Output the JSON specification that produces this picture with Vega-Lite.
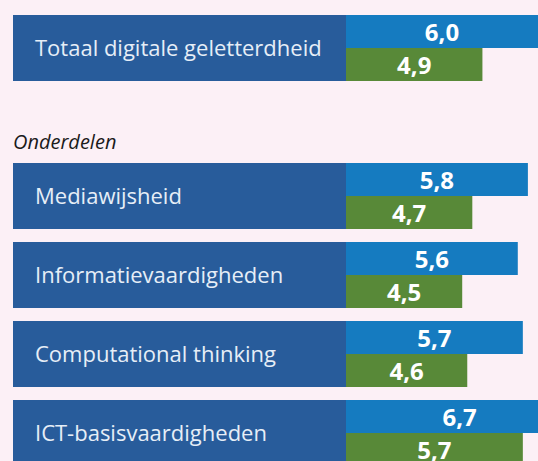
{
  "$schema": "https://vega.github.io/schema/vega-lite/v6.json",
  "background": "#FCF0F6",
  "padding": {"left": 13, "top": 15, "right": 0, "bottom": 0},
  "config": {
    "view": {"stroke": null},
    "locale": {"number": {"decimal": ",", "thousands": ".", "grouping": [3], "currency": ["€", ""]}},
    "font": "Open Sans"
  },
  "data": {
    "values": [
      {"groep": "Totaal", "onderdeel": "Totaal digitale geletterdheid", "serie": "A", "score": 6.0},
      {"groep": "Totaal", "onderdeel": "Totaal digitale geletterdheid", "serie": "B", "score": 4.9},
      {"groep": "Onderdelen", "onderdeel": "Mediawijsheid", "serie": "A", "score": 5.8},
      {"groep": "Onderdelen", "onderdeel": "Mediawijsheid", "serie": "B", "score": 4.7},
      {"groep": "Onderdelen", "onderdeel": "Informatievaardigheden", "serie": "A", "score": 5.6},
      {"groep": "Onderdelen", "onderdeel": "Informatievaardigheden", "serie": "B", "score": 4.5},
      {"groep": "Onderdelen", "onderdeel": "Computational thinking", "serie": "A", "score": 5.7},
      {"groep": "Onderdelen", "onderdeel": "Computational thinking", "serie": "B", "score": 4.6},
      {"groep": "Onderdelen", "onderdeel": "ICT-basisvaardigheden", "serie": "A", "score": 6.7},
      {"groep": "Onderdelen", "onderdeel": "ICT-basisvaardigheden", "serie": "B", "score": 5.7}
    ]
  },
  "vconcat": [
    {
      "spacing": 0,
      "transform": [{"filter": "datum.groep === 'Totaal'"}],
      "hconcat": [
        {
          "width": 333,
          "height": 66,
          "transform": [{"filter": "datum.serie === 'A'"}],
          "encoding": {
            "y": {"field": "onderdeel", "type": "nominal", "sort": null, "axis": null, "scale": {"paddingInner": 0, "paddingOuter": 0}}
          },
          "layer": [
            {
              "mark": {"type": "bar", "color": "#285C9B"},
              "encoding": {
                "x": {"datum": 0, "type": "quantitative", "scale": {"domain": [0, 1], "nice": false, "zero": false}, "axis": null},
                "x2": {"datum": 1}
              }
            },
            {
              "mark": {"type": "text", "align": "left", "baseline": "middle", "dx": 22, "dy": 1, "font": "Open Sans", "fontSize": 22, "color": "#E6EEF7"},
              "encoding": {
                "x": {"datum": 0, "type": "quantitative"},
                "text": {"field": "onderdeel"}
              }
            }
          ]
        },
        {
          "width": 192,
          "height": 66,
          "encoding": {
            "y": {"field": "onderdeel", "type": "nominal", "sort": null, "axis": null, "scale": {"paddingInner": 0, "paddingOuter": 0}},
            "yOffset": {"field": "serie", "type": "nominal", "scale": {"paddingInner": 0, "paddingOuter": 0}}
          },
          "layer": [
            {
              "mark": {"type": "bar", "clip": true},
              "encoding": {
                "x": {"field": "score", "type": "quantitative", "scale": {"domain": [2.2, 6.0], "nice": false, "zero": false}, "axis": null},
                "color": {"field": "serie", "type": "nominal", "scale": {"domain": ["A", "B"], "range": ["#157BC0", "#588938"]}, "legend": null}
              }
            },
            {
              "mark": {"type": "text", "baseline": "middle", "align": "center", "dy": 2, "font": "Open Sans", "fontWeight": "bold", "fontSize": 24, "color": "#FFFFFF"},
              "encoding": {
                "x": {"field": "score", "type": "quantitative", "scale": {"domain": [2.2, 9.8], "nice": false, "zero": false}, "axis": null},
                "text": {"field": "score", "type": "quantitative", "format": ".1f"}
              }
            }
          ],
          "resolve": {"scale": {"x": "independent"}}
        }
      ]
    },
    {
      "spacing": 0,
      "title": {"text": "Onderdelen", "anchor": "start", "font": "Open Sans", "fontStyle": "italic", "fontWeight": "normal", "fontSize": 20, "color": "#1B1B1B", "baseline": "alphabetic", "offset": -6},
      "transform": [{"filter": "datum.groep === 'Onderdelen'"}],
      "hconcat": [
        {
          "width": 333,
          "height": 298,
          "transform": [{"filter": "datum.serie === 'A'"}],
          "encoding": {
            "y": {"field": "onderdeel", "type": "nominal", "sort": null, "axis": null, "scale": {"paddingInner": 0.1646, "paddingOuter": 0, "range": [0, 303]}}
          },
          "layer": [
            {
              "mark": {"type": "bar", "color": "#285C9B", "clip": true},
              "encoding": {
                "x": {"datum": 0, "type": "quantitative", "scale": {"domain": [0, 1], "nice": false, "zero": false}, "axis": null},
                "x2": {"datum": 1}
              }
            },
            {
              "mark": {"type": "text", "align": "left", "baseline": "middle", "dx": 22, "dy": 1, "font": "Open Sans", "fontSize": 22, "color": "#E6EEF7", "clip": true},
              "encoding": {
                "x": {"datum": 0, "type": "quantitative"},
                "text": {"field": "onderdeel"}
              }
            }
          ]
        },
        {
          "width": 192,
          "height": 298,
          "encoding": {
            "y": {"field": "onderdeel", "type": "nominal", "sort": null, "axis": null, "scale": {"paddingInner": 0.1646, "paddingOuter": 0, "range": [0, 303]}},
            "yOffset": {"field": "serie", "type": "nominal", "scale": {"paddingInner": 0, "paddingOuter": 0}}
          },
          "layer": [
            {
              "mark": {"type": "bar", "clip": true},
              "encoding": {
                "x": {"field": "score", "type": "quantitative", "scale": {"domain": [2.2, 6.0], "nice": false, "zero": false}, "axis": null},
                "color": {"field": "serie", "type": "nominal", "scale": {"domain": ["A", "B"], "range": ["#157BC0", "#588938"]}, "legend": null}
              }
            },
            {
              "mark": {"type": "text", "baseline": "middle", "align": "center", "dy": 2, "font": "Open Sans", "fontWeight": "bold", "fontSize": 24, "color": "#FFFFFF", "clip": true},
              "encoding": {
                "x": {"field": "score", "type": "quantitative", "scale": {"domain": [2.2, 9.8], "nice": false, "zero": false}, "axis": null},
                "text": {"field": "score", "type": "quantitative", "format": ".1f"}
              }
            }
          ],
          "resolve": {"scale": {"x": "independent"}}
        }
      ]
    }
  ],
  "spacing": 52
}
